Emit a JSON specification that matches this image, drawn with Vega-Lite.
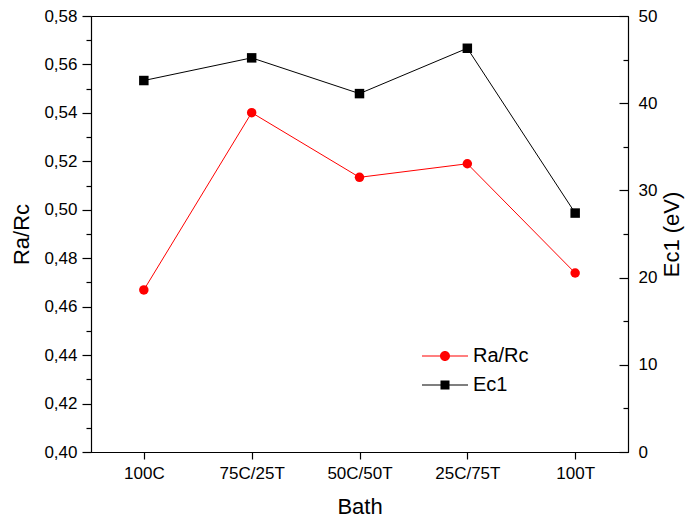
{
  "$schema": "https://vega.github.io/schema/vega-lite/v6.json",
  "width": 537,
  "height": 436,
  "autosize": {"type": "none"},
  "padding": {"left": 91, "top": 16, "right": 58, "bottom": 68},
  "background": "white",
  "config": {
    "font": "Liberation Sans",
    "view": {"stroke": "#000000", "strokeWidth": 1},
    "axis": {
      "domainColor": "#000000",
      "tickColor": "#000000",
      "labelColor": "#000000",
      "titleColor": "#000000",
      "labelFont": "Liberation Sans",
      "titleFont": "Liberation Sans",
      "labelFontSize": 17,
      "titleFontSize": 22,
      "titleFontWeight": "normal",
      "grid": false,
      "domainWidth": 1.2,
      "tickWidth": 1.2
    },
    "legend": {
      "labelFont": "Liberation Sans",
      "labelFontSize": 20,
      "labelColor": "#000000"
    }
  },
  "data": {
    "values": [
      {"bath": "100C", "series": "Ra/Rc", "value": 0.4669},
      {"bath": "75C/25T", "series": "Ra/Rc", "value": 0.5401},
      {"bath": "50C/50T", "series": "Ra/Rc", "value": 0.5134},
      {"bath": "25C/75T", "series": "Ra/Rc", "value": 0.519},
      {"bath": "100T", "series": "Ra/Rc", "value": 0.4739},
      {"bath": "100C", "series": "Ec1", "value": 42.6},
      {"bath": "75C/25T", "series": "Ec1", "value": 45.2},
      {"bath": "50C/50T", "series": "Ec1", "value": 41.1},
      {"bath": "25C/75T", "series": "Ec1", "value": 46.3},
      {"bath": "100T", "series": "Ec1", "value": 27.4}
    ]
  },
  "encoding": {
    "x": {
      "field": "bath",
      "type": "ordinal",
      "sort": ["100C", "75C/25T", "50C/50T", "25C/75T", "100T"],
      "scale": {"type": "point", "padding": 0.49},
      "axis": {
        "title": "Bath",
        "labelAngle": 0,
        "tickSize": 7,
        "labelPadding": 6,
        "titlePadding": 15,
        "domain": true
      }
    }
  },
  "layer": [
    {
      "transform": [{"filter": "datum.series == 'Ra/Rc'"}],
      "encoding": {
        "y": {
          "field": "value",
          "type": "quantitative",
          "scale": {"domain": [0.4, 0.58], "nice": false, "zero": false},
          "axis": {
            "orient": "left",
            "title": "Ra/Rc",
            "values": [0.40, 0.41, 0.42, 0.43, 0.44, 0.45, 0.46, 0.47, 0.48, 0.49, 0.50, 0.51, 0.52, 0.53, 0.54, 0.55, 0.56, 0.57, 0.58],
            "labelExpr": "round(datum.value * 100) % 2 == 0 ? replace(format(datum.value, '.2f'), '.', ',') : ''",
            "tickSize": {"condition": {"test": "round(datum.value * 100) % 2 == 0", "value": 9}, "value": 5},
            "labelPadding": 5,
            "labelOverlap": false,
            "labelBound": false,
            "titlePadding": 10
          }
        }
      },
      "layer": [
        {"mark": {"type": "line", "color": "#ff0000", "strokeWidth": 1}},
        {"mark": {"type": "point", "shape": "circle", "filled": true, "size": 90, "color": "#ff0000", "opacity": 1}},
        {
          "mark": {"type": "point", "filled": true, "opacity": 0},
          "encoding": {
            "shape": {
              "field": "series",
              "type": "nominal",
              "scale": {
                "domain": ["Ra/Rc", "Ec1"],
                "range": [
                  "M-4.6,-0.1H4.6V0.1H-4.6Z M1,0A1,1,0,1,1,-1,0A1,1,0,1,1,1,0Z",
                  "M-4.6,-0.1H4.6V0.1H-4.6Z M-0.9,-0.9H0.9V0.9H-0.9Z"
                ]
              },
              "legend": {
                "title": null,
                "orient": "none",
                "legendX": 344,
                "legendY": 330,
                "symbolSize": 100,
                "symbolOpacity": 1,
                "labelOffset": 18,
                "rowPadding": 9,
                "padding": 0
              }
            },
            "color": {
              "field": "series",
              "type": "nominal",
              "scale": {"domain": ["Ra/Rc", "Ec1"], "range": ["#ff0000", "#000000"]},
              "legend": {
                "title": null,
                "orient": "none",
                "legendX": 344,
                "legendY": 330,
                "symbolSize": 100,
                "symbolOpacity": 1,
                "labelOffset": 18,
                "rowPadding": 9,
                "padding": 0
              }
            }
          }
        }
      ]
    },
    {
      "transform": [{"filter": "datum.series == 'Ec1'"}],
      "encoding": {
        "y": {
          "field": "value",
          "type": "quantitative",
          "scale": {"domain": [0, 50], "nice": false, "zero": true},
          "axis": {
            "orient": "right",
            "title": "Ec1 (eV)",
            "titleAngle": 270,
            "values": [0, 5, 10, 15, 20, 25, 30, 35, 40, 45, 50],
            "labelExpr": "datum.value % 10 == 0 ? format(datum.value, 'd') : ''",
            "tickSize": {"condition": {"test": "datum.value % 10 == 0", "value": -9}, "value": -5},
            "labelPadding": 19,
            "labelOverlap": false,
            "labelBound": false,
            "titlePadding": 27
          }
        }
      },
      "layer": [
        {"mark": {"type": "line", "color": "#000000", "strokeWidth": 1}},
        {"mark": {"type": "point", "shape": "square", "filled": true, "size": 90, "color": "#000000", "opacity": 1}}
      ]
    }
  ],
  "resolve": {"scale": {"y": "independent"}}
}
